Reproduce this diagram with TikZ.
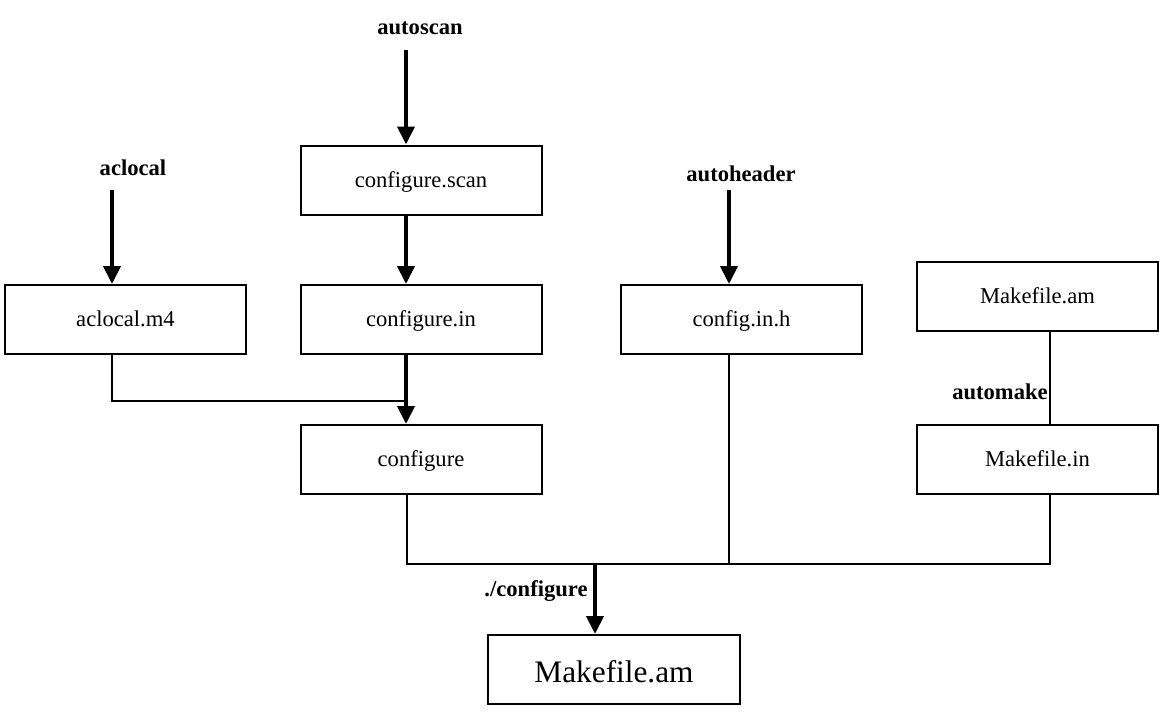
\documentclass[tikz,border=0pt]{standalone}
\usepackage{fontspec}
\setmainfont{Liberation Serif}
\usetikzlibrary{arrows.meta}
\begin{document}
\begin{tikzpicture}[x=1pt,y=-1pt,
  box/.style={draw,line width=2pt,minimum width=241pt,minimum height=69pt,inner sep=0pt,text height=20pt,text depth=5.5pt,font=\fontsize{22.6}{26}\selectfont},
  bigbox/.style={box,minimum width=252pt,text height=31pt,text depth=6pt,font=\fontsize{31.3}{36}\selectfont},
  lbl/.style={inner sep=0pt,font=\fontsize{22.6}{26}\selectfont\bfseries},
  thickarrow/.style={line width=4pt,-{Triangle[length=18pt,width=17pt]}},
  thin/.style={line width=1.8pt}]
\useasboundingbox (0,0) rectangle (1172,712);
% boxes
\node[box] (scan) at (421,180) {configure.scan};
\node[box] (m4) at (125.5,319.5) {aclocal.m4};
\node[box] (cin) at (421,319.5) {configure.in};
\node[box] (cih) at (741.5,319.5) {config.in.h};
\node[box] (mam) at (1037.5,296.5) {Makefile.am};
\node[box] (conf) at (421,459.5) {configure};
\node[box] (min) at (1037.5,459.5) {Makefile.in};
\node[bigbox] (out) at (614,669.5) {Makefile.am};
% labels
\node[lbl] (lscan) at (420,28) {autoscan};
\node[lbl] (lacl) at (133,168) {aclocal};
\node[lbl] (lhdr) at (741,174) {autoheader};
\node[lbl] (lmk) at (1000,392) {automake};
\node[lbl] (lcfg) at (536,591) {./configure};
% coordinates
\coordinate (sa) at (406,50);
\coordinate (aa) at (112,190);
\coordinate (ha) at (729,190);
\coordinate (ma) at (1050,0);
\coordinate (bus) at (407,564);
\coordinate (busr) at (1050,564);
\coordinate (ca) at (595,564);
% thick arrows
\draw[thickarrow] (sa) -- (sa |- scan.north);
\draw[thickarrow] (aa) -- (aa |- m4.north);
\draw[thickarrow] (ha) -- (ha |- cih.north);
\draw[thickarrow] (sa |- scan.south) -- (sa |- cin.north);
\draw[thin] (aa |- m4.south) |- (sa |- 0,401);
\draw[thickarrow] (sa |- cin.south) -- (sa |- conf.north);
% thin connectors
\draw[thin] (ma |- mam.south) -- (ma |- min.north);
\draw[thin] (bus |- conf.south) -- (bus) -- (busr) -- (busr |- min.south);
\draw[thin] (ha |- cih.south) -- (ha |- bus);
\draw[thickarrow] (ca) -- (ca |- out.north);
\end{tikzpicture}
\end{document}
